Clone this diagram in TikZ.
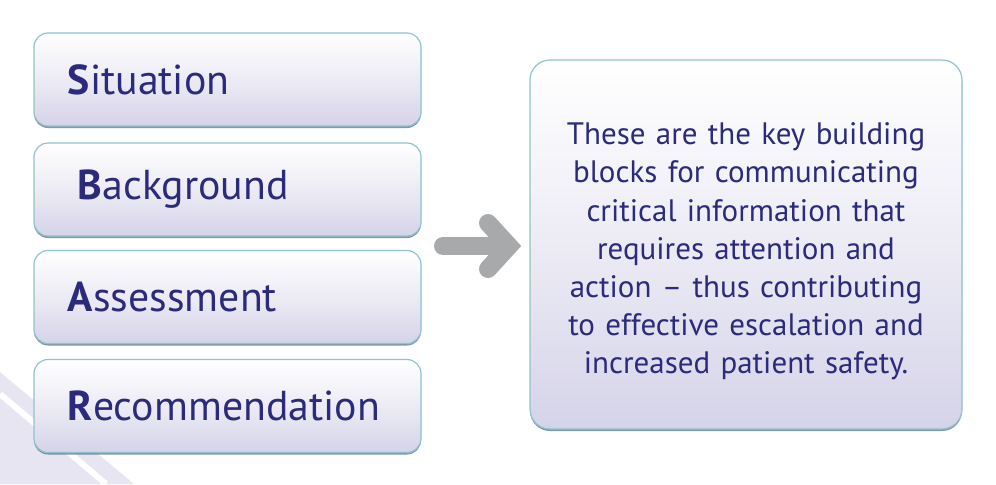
\documentclass[tikz,border=0pt]{standalone}
\usepackage{fontspec}
\setmainfont{PT Sans}
\usetikzlibrary{shadows}
\definecolor{sbarnavy}{HTML}{2B2A7B}
\definecolor{sbarlav}{HTML}{D5D3E8}
\definecolor{sbaredge}{HTML}{8FC3CF}
\definecolor{sbarshade}{HTML}{5F7F8E}
\definecolor{sbargrey}{HTML}{A8A9AB}
\definecolor{sbarback}{HTML}{E6E5F1}
\tikzset{
    sbarbox/.style={draw=sbaredge, line width=0.6pt, rounded corners=7pt,
        top color=white, bottom color=sbarlav, middle color=white!55!sbarlav,
        drop shadow={shadow xshift=0pt, shadow yshift=-1pt, fill=sbarshade, opacity=0.8},
        minimum width=193.5pt, minimum height=46.5pt, inner xsep=17pt,
        text width=159.5pt, align=left, text=sbarnavy, font=\fontsize{20.9}{24}\selectfont},
    infobox/.style={sbarbox, rounded corners=10pt, minimum width=216pt,
        minimum height=184.5pt, text width=190pt, align=center, inner xsep=13pt,
        font=\fontsize{15.5}{19.1}\selectfont},
    greyarrow/.style={draw=sbargrey, line width=9pt}
}
\begin{document}
\begin{tikzpicture}[x=0.5pt,y=-0.5pt]
    \useasboundingbox (0,0) rectangle (996,484);

    % background stripes
    \fill[sbarback] (0,372) -- (134,484) -- (0,484) -- cycle;
    \draw[white, line width=3pt] (0,394) -- (106,484);

    % SBAR boxes
    \node[sbarbox] (sit) at (227.5,79.5) {\textbf{S}ituation};
    \node[sbarbox] (bac) at (227.5,189.5) {\hspace{5pt}\textbf{B}ackground};
    \node[sbarbox] (ass) at (227.5,297) {\textbf{A}ssessment};
    \node[sbarbox] (rec) at (227.5,406) {\textbf{R}ecommendation};

    % key building blocks
    \node[infobox] (info) at (746,244.5) {\rule{0pt}{18pt}These are the key building blocks for communicating critical information that requires attention and action -- thus contributing to effective escalation and increased patient safety.};

    % Arrow
    \coordinate (shaftstart) at (443,246);
    \coordinate (tip) at (509,246);
    \draw[greyarrow, line cap=round] (shaftstart) -- (tip);
    \draw[greyarrow, line cap=round, line join=miter] (488,223) -- (tip) -- (488,269);

\end{tikzpicture}
\end{document}
